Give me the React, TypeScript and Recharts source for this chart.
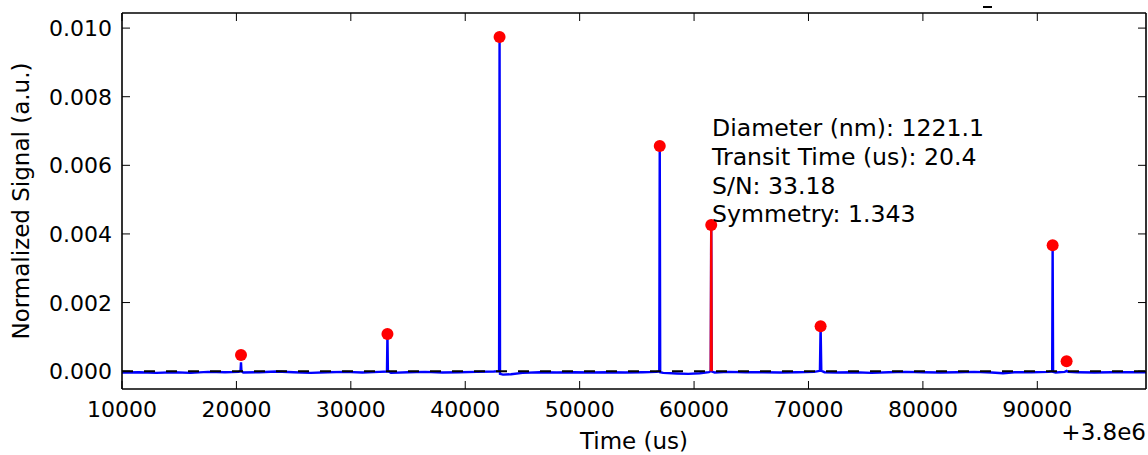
import React from 'react';
import { ComposedChart, Line, Scatter, XAxis, YAxis, Label } from 'recharts';

// signal trace (time in us, offset +3.8e6)
const signalTime = [
  10000, 11500, 13000, 14500, 16000, 17500, 19000, 20200, 20360, 20400, 20440, 20600,
  22000, 23500, 25000, 26500, 28000, 29500, 31000, 32500, 33160, 33200, 33240, 33500,
  35000, 36500, 38000, 39500, 41000, 42500, 42960, 43000, 43040, 43300, 44000, 45000,
  46500, 48000, 49500, 51000, 52500, 54000, 55500, 56700, 56960, 57000, 57040, 57300,
  58500, 59500, 60500, 61300, 61460, 61500, 61540, 61800, 63000, 64500, 66000, 67500,
  69000, 70500, 71000, 71060, 71120, 71400, 72500, 74000, 75500, 77000, 78500, 80000,
  81500, 83000, 84500, 86000, 87000, 88000, 89500, 91000, 91300, 91340, 91380, 91600,
  92400, 92560, 92700, 93500, 95000, 96500, 98000, 99500,
];
const signalValue = [
  -0.00004, -0.00003, -0.00005, -0.00003, -0.00005, -0.00002, -0.00003, -0.00002, 0, 0.00026, 0, -0.00004,
  -0.00003, -0.00001, -0.00003, -0.00005, -0.00003, -0.00002, -0.00004, -0.00002, -0.00001, 0.00108, 0, -0.00005,
  -0.00003, -0.00002, -0.00004, -0.00003, -0.00002, -0.00001, 0, 0.00974, -0.00008, -0.0001, -0.00009, -0.00005,
  -0.00003, -0.00004, -0.00003, -0.00004, -0.00003, -0.00004, -0.00003, -0.00002, -0.00001, 0.00656, -0.00003, -0.00005,
  -0.00007, -0.00008, -0.00006, -0.00003, 0, 0.00426, -0.00001, -0.00004, -0.00002, -0.00003, -0.00003, -0.00004,
  -0.00003, -0.00002, 0.00001, 0.00131, 0.00001, -0.00003, -0.00004, -0.00003, -0.00005, -0.00003, -0.00002, -0.00003,
  -0.00004, -0.00003, -0.00002, -0.00004, -0.00006, -0.00003, -0.00003, -0.00002, -0.00001, 0.00367, -0.00002, -0.00004,
  -0.00002, 0.00001, -0.00002, -0.00003, -0.00004, -0.00003, -0.00003, -0.00003,
];

// detected peaks
const peakTime = [20400, 33200, 43000, 57000, 61500, 71060, 91340, 92560];
const peakValue = [0.00047, 0.00108, 0.00974, 0.00656, 0.00426, 0.00131, 0.00367, 0.00029];

// selected peak, drawn red
const selTime = [61460, 61500, 61540];
const selValue = [0, 0.00426, 0];

const baseTime = [10000, 99500];
const baseValue = [0, 0];

const xTicks = [10000, 20000, 30000, 40000, 50000, 60000, 70000, 80000, 90000];
const yTicks = [0, 0.002, 0.004, 0.006, 0.008, 0.01];

const infoLines = [
  'Diameter (nm): 1221.1',
  'Transit Time (us): 20.4',
  'S/N: 33.18',
  'Symmetry: 1.343',
];

const signal = signalTime.map((t, i) => ({ t, v: signalValue[i] }));
const peaks = peakTime.map((t, i) => ({ t, v: peakValue[i] }));
const selected = selTime.map((t, i) => ({ t, v: selValue[i] }));
const baseline = baseTime.map((t, i) => ({ t, v: baseValue[i] }));

const FONT = '"DejaVu Sans", sans-serif';
const TICK = 8;

function BottomTick({ x, y, payload }: any) {
  return (
    <g>
      <line x1={x} x2={x} y1={y} y2={y - TICK} stroke="#000" strokeWidth={1} />
      <text x={x} y={y + 28} textAnchor="middle" fontSize={22} fontFamily={FONT} fill="#000">
        {payload.value}
      </text>
    </g>
  );
}

function TopTick({ x, y }: any) {
  return <line x1={x} x2={x} y1={y} y2={y + TICK} stroke="#000" strokeWidth={1} />;
}

function LeftTick({ x, y, payload }: any) {
  return (
    <g>
      <line x1={x} x2={x + TICK} y1={y} y2={y} stroke="#000" strokeWidth={1} />
      <text x={x - 10} y={y + 8} textAnchor="end" fontSize={22} fontFamily={FONT} fill="#000">
        {Number(payload.value).toFixed(3)}
      </text>
    </g>
  );
}

function RightTick({ x, y }: any) {
  return <line x1={x} x2={x - TICK} y1={y} y2={y} stroke="#000" strokeWidth={1} />;
}

const dotShape = (p: any) => <circle cx={p.cx} cy={p.cy} r={6} fill="#ff0000" />;

export default function App() {
  return (
    <div style={{ position: 'absolute', left: 0, top: 0, width: 1148, height: 455, background: '#fff' }}>
      <ComposedChart width={1148} height={455} margin={{ top: 12, right: 1, bottom: 0, left: 0 }}>
        <XAxis
          xAxisId={0} dataKey="t" type="number" domain={[10000, 99500]} allowDataOverflow
          ticks={xTicks} interval={0} height={66} tickSize={0} tickMargin={0}
          tickLine={false} tick={<BottomTick />}
          axisLine={{ stroke: '#000', strokeWidth: 1.6 }}
        >
          <Label content={({ viewBox }: any) => (
            <g>
              <text x={viewBox.x + viewBox.width / 2} y={viewBox.y + 60} textAnchor="middle"
                fontSize={23} fontFamily={FONT} fill="#000">Time (us)</text>
              <text x={viewBox.x + viewBox.width} y={viewBox.y + 51} textAnchor="end"
                fontSize={23} fontFamily={FONT} fill="#000">+3.8e6</text>
            </g>
          )} />
        </XAxis>
        <XAxis
          xAxisId="top" dataKey="t" type="number" orientation="top" domain={[10000, 99500]} allowDataOverflow
          ticks={xTicks} interval={0} height={1} tickSize={0} tickMargin={0}
          tickLine={false} tick={<TopTick />}
          axisLine={{ stroke: '#000', strokeWidth: 1.6 }}
        />
        <YAxis
          yAxisId={0} dataKey="v" type="number" domain={[-0.00052, 0.01044]} allowDataOverflow
          ticks={yTicks} interval={0} width={122} tickSize={0} tickMargin={0}
          tickLine={false} tick={<LeftTick />}
          axisLine={{ stroke: '#000', strokeWidth: 1.6 }}
        >
          <Label content={({ viewBox }: any) => {
            const cx = 29;
            const cy = viewBox.y + viewBox.height / 2;
            return (
              <text x={cx} y={cy} transform={`rotate(-90 ${cx} ${cy})`} textAnchor="middle"
                fontSize={23} fontFamily={FONT} fill="#000">Normalized Signal (a.u.)</text>
            );
          }} />
        </YAxis>
        <YAxis
          yAxisId="right" orientation="right" type="number" domain={[-0.00052, 0.01044]} allowDataOverflow
          ticks={yTicks} interval={0} width={1} tickSize={0} tickMargin={0}
          tickLine={false} tick={<RightTick />}
          axisLine={{ stroke: '#000', strokeWidth: 1.6 }}
        />
        <Line data={signal} dataKey="v" type="linear" stroke="#0000ff" strokeWidth={2.4}
          dot={false} activeDot={false} isAnimationActive={false} />
        <Line data={baseline} dataKey="v" type="linear" stroke="#000" strokeWidth={2}
          strokeDasharray="11 11" dot={false} activeDot={false} isAnimationActive={false} />
        <Line data={selected} dataKey="v" type="linear" stroke="#ff0000" strokeWidth={2.4}
          dot={false} activeDot={false} isAnimationActive={false} />
        <Scatter data={peaks} dataKey="v" shape={dotShape} isAnimationActive={false} />
      </ComposedChart>
      <div style={{
        position: 'absolute', left: 712, top: 114.3, fontFamily: FONT, fontSize: 23.6,
        lineHeight: '28.7px', color: '#000', whiteSpace: 'pre',
      }}>
        {infoLines.map((s, i) => <div key={i}>{s}</div>)}
      </div>
      <div style={{ position: 'absolute', left: 983, top: 6, width: 9, height: 2, background: '#000' }} />
    </div>
  );
}
